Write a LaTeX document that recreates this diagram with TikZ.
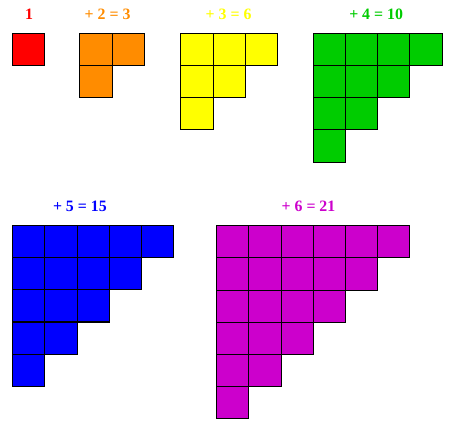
\documentclass[tikz,border=0pt]{standalone}
\usepackage{fontspec}
\setmainfont{Liberation Serif}
\definecolor{oneRed}{HTML}{FF0000}
\definecolor{twoOrange}{HTML}{FF8C00}
\definecolor{threeYellow}{HTML}{FFFF00}
\definecolor{fourGreen}{HTML}{00CC00}
\definecolor{fiveBlue}{HTML}{0000FF}
\definecolor{sixMagenta}{HTML}{CC00CC}
\tikzset{
  cell/.style={draw=black,line width=0.9pt},
  sumlabel/.style={font=\bfseries\fontsize{14}{16}\selectfont}
}
% staircase of #3 rows, top left corner at (#1,#2)
\newcommand\stairs[4]{%
  \foreach \r in {1,...,#3}{%
    \pgfmathtruncatemacro\k{#3-\r+1}
    \foreach \c in {1,...,\k}
      \fill[#4] ({#1+\c-1},{#2+\r-1}) rectangle ++(1,1);
  }%
  \foreach \r in {1,...,#3}{%
    \pgfmathtruncatemacro\k{#3-\r+1}
    \foreach \c in {1,...,\k}
      \draw[cell] ({#1+\c-1},{#2+\r-1}) rectangle ++(1,1);
  }%
}
\begin{document}
\begin{tikzpicture}[x=1cm,y=-1cm]
\useasboundingbox (0,0) rectangle (13.944,13.199);
\stairs{0.394}{1.034}{1}{oneRed}
\stairs{2.484}{1.034}{2}{twoOrange}
\stairs{5.62}{1.034}{3}{threeYellow}
\stairs{9.73}{1.034}{4}{fourGreen}
\stairs{0.394}{7.0}{5}{fiveBlue}
\stairs{6.73}{7.01}{6}{sixMagenta}
\node (one) [sumlabel,oneRed] at (0.90,0.44) {1};
\node (two) [sumlabel,twoOrange] at (3.34,0.44) {+ 2 = 3};
\node (three) [sumlabel,threeYellow] at (7.10,0.46) {+ 3 = 6};
\node (four) [sumlabel,fourGreen] at (11.68,0.44) {+ 4 = 10};
\node (five) [sumlabel,fiveBlue] at (2.48,6.41) {+ 5 = 15};
\node (six) [sumlabel,sixMagenta] at (9.58,6.41) {+ 6 = 21};
\end{tikzpicture}
\end{document}
